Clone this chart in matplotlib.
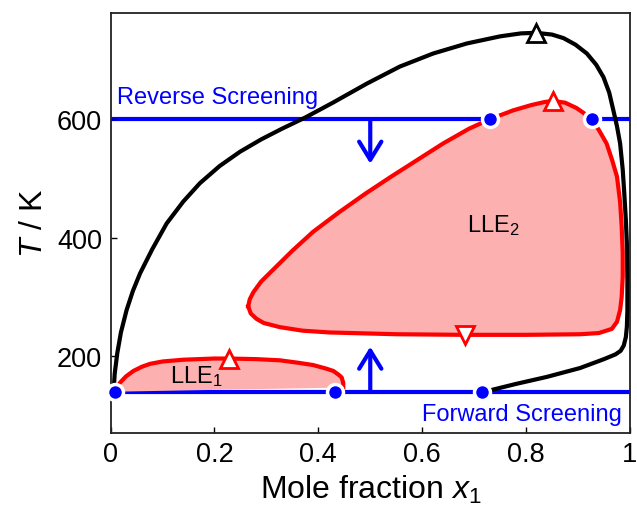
import matplotlib
matplotlib.use('Agg')
import matplotlib.pyplot as plt

plt.rcParams['font.family'] = ['Liberation Sans', 'DejaVu Sans']
plt.rcParams['mathtext.fontset'] = 'custom'
plt.rcParams['mathtext.rm'] = 'Liberation Sans'
plt.rcParams['mathtext.it'] = 'Liberation Sans:italic'

# phase envelope (black)
env_x = [0.006, 0.008, 0.013, 0.020, 0.031, 0.043, 0.057, 0.080, 0.108, 0.140,
         0.172, 0.210, 0.249, 0.290, 0.330, 0.375, 0.428, 0.493, 0.557, 0.621,
         0.686, 0.750, 0.790, 0.819, 0.850, 0.872, 0.895, 0.917, 0.935, 0.949,
         0.960, 0.968, 0.975, 0.981, 0.986, 0.989, 0.992, 0.994, 0.995, 0.995,
         0.994, 0.992, 0.988, 0.982, 0.972, 0.950, 0.904, 0.840, 0.780, 0.734,
         0.720]
env_T = [140, 170, 205, 240, 278, 310, 340, 380, 424, 461,
         492, 521, 545, 566, 584, 603, 628, 660, 689, 711,
         728, 740, 745, 746, 743, 737, 726, 711, 692, 671,
         645, 615, 588, 559, 515, 475, 430, 391, 330, 278,
         250, 232, 218, 209, 203, 195, 180, 165, 153, 143,
         140]

# LLE2 region (closed loop)
lle2_x = [0.265, 0.268, 0.275, 0.290, 0.313, 0.350, 0.390, 0.440, 0.490, 0.540,
          0.590, 0.640, 0.690, 0.730, 0.775, 0.810, 0.835, 0.851, 0.875, 0.897,
          0.915, 0.926, 0.940, 0.955, 0.966, 0.975, 0.981, 0.984, 0.986, 0.986,
          0.984, 0.981, 0.975, 0.965, 0.940, 0.904, 0.800, 0.682, 0.551, 0.422,
          0.370, 0.326, 0.295, 0.281, 0.270, 0.265]
lle2_T = [284, 296, 308, 326, 346, 378, 410, 443, 474, 503,
          531, 559, 584, 600, 615, 624, 629, 631, 628, 619,
          608, 600, 582, 559, 530, 503, 460, 419, 375, 334,
          300, 278, 258, 246, 239, 237, 236, 236, 237, 240,
          243, 249, 256, 263, 272, 284]

# LLE1 region
lle1_x = [0.009, 0.012, 0.018, 0.030, 0.044, 0.060, 0.076, 0.100, 0.140, 0.200,
          0.228, 0.280, 0.326, 0.360, 0.390, 0.415, 0.429, 0.440, 0.445, 0.448,
          0.448]
lle1_T = [140, 146, 155, 166, 175, 182, 187, 191, 194, 196,
          196, 195, 193, 189, 185, 179, 175, 168, 164, 155,
          147]

forward_T = 140
reverse_T = 600
forward_dots_x = [0.009, 0.433, 0.715]
reverse_dots_x = [0.730, 0.926]

crit_black = (0.819, 746)
crit_red_up_x = [0.228, 0.851]
crit_red_up_T = [196, 631]
crit_red_down = (0.682, 236)

arrow_x = 0.5
arrow_down_tip = 525
arrow_up_tip = 216

blue = '#0000FF'
red = '#FF0000'
pink = '#FCB0B0'
lw = 3.0

fig = plt.figure(figsize=(6.37, 5.06), dpi=100)
ax = fig.add_axes([0.1735, 0.142, 0.8155, 0.831])

# screening lines
ax.axhline(forward_T, color=blue, lw=lw, zorder=1)
ax.axhline(reverse_T, color=blue, lw=lw, zorder=1)

# liquid-liquid regions
ax.fill(lle2_x, lle2_T, color=pink, lw=0, zorder=2)
ax.fill(lle1_x, lle1_T, color=pink, lw=0, zorder=2)
ax.plot(lle2_x, lle2_T, color=red, lw=lw, zorder=3, solid_joinstyle='round')
ax.plot(lle1_x, lle1_T, color=red, lw=lw, zorder=3, solid_joinstyle='round')

ax.plot(env_x, env_T, color='black', lw=lw, zorder=3, solid_joinstyle='round')

# screening arrows
for tail, tip in [(reverse_T, arrow_down_tip), (forward_T, arrow_up_tip)]:
    ax.annotate('', xy=(arrow_x, tip), xytext=(arrow_x, tail),
                arrowprops=dict(arrowstyle='->,head_length=0.65,head_width=0.4',
                                color=blue, lw=lw, mutation_scale=20,
                                shrinkA=0, shrinkB=0), zorder=4)

# critical points
ax.plot(*crit_black, marker='^', ms=13, mfc='white', mec='black', mew=2, zorder=5)
ax.plot(crit_red_up_x, crit_red_up_T, ls='none', marker='^', ms=13,
        mfc='white', mec=red, mew=2, zorder=5)
ax.plot(*crit_red_down, marker='v', ms=13, mfc='white', mec=red, mew=2, zorder=5)

# screening intersections
ax.plot(forward_dots_x, [forward_T] * len(forward_dots_x), ls='none', marker='o',
        ms=11.5, mfc=blue, mec='white', mew=2.5, zorder=6, clip_on=False)
ax.plot(reverse_dots_x, [reverse_T] * len(reverse_dots_x), ls='none', marker='o',
        ms=11.5, mfc=blue, mec='white', mew=2.5, zorder=6)

ax.text(0.012, 627, 'Reverse Screening', color=blue, fontsize=17, va='baseline')
ax.text(0.985, 93, 'Forward Screening', color=blue, fontsize=17, va='baseline', ha='right')
ax.text(0.686, 411, 'LLE$_2$', fontsize=17, va='baseline')
ax.text(0.1145, 156, 'LLE$_1$', fontsize=17, va='baseline')

ax.set_xlim(0, 1)
ax.set_ylim(70, 780)
ax.set_xticks([0, 0.2, 0.4, 0.6, 0.8, 1])
ax.set_xticklabels(['0', '0.2', '0.4', '0.6', '0.8', '1'])
ax.set_yticks([200, 400, 600])
ax.tick_params(direction='in', length=4, width=1, labelsize=19.5, pad=6,
               top=False, right=False)
for s in ax.spines.values():
    s.set_linewidth(1.3)
    s.set_color('#222222')

ax.set_xlabel('Mole fraction $x_1$', fontsize=23, labelpad=4)
ax.set_ylabel('$T$ / K', fontsize=23, labelpad=6)

fig.savefig('out.png', dpi=100)
